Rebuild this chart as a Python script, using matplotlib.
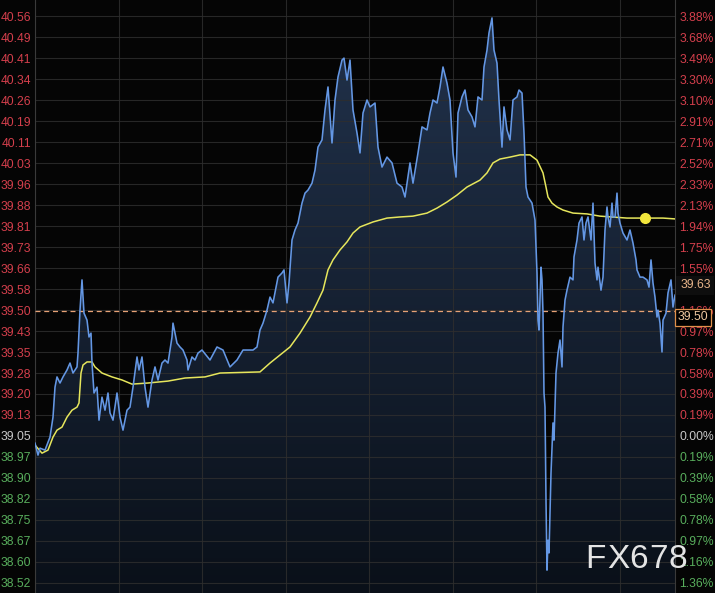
import numpy as np
import matplotlib
matplotlib.use("Agg")
import matplotlib.pyplot as plt
import matplotlib.transforms as mtransforms
from matplotlib.colors import LinearSegmentedColormap

# ---- data (bar index = minute bars from session start) ----
bars = [0, 3, 5, 10, 15, 18, 20, 22, 25, 28, 32, 35, 38, 42, 43, 45, 47, 49, 52, 54,
        56, 57, 59, 62, 64, 67, 70, 73, 75, 78, 82, 85, 88, 92, 95, 98, 102, 104, 107, 110,
        113, 117, 120, 123, 127, 130, 133, 137, 138, 142, 145, 148, 152, 153, 157, 160, 163, 167,
        175, 182, 188, 195, 202, 208, 215, 218, 222, 225, 228, 232, 235, 238, 243, 247, 249, 252,
        254, 257, 260, 263, 267, 270, 273, 277, 280, 283, 287, 290, 293, 297, 300, 303, 307, 309,
        312, 315, 318, 322, 325, 328, 332, 335, 340, 343, 347, 352, 357, 362, 367, 370, 375, 378,
        383, 387, 392, 395, 398, 402, 405, 408, 412, 415, 418, 421, 423, 427, 430, 433, 437, 440,
        443, 447, 449, 452, 454, 457, 459, 462, 464, 467, 469, 472, 475, 478, 482, 484, 487, 489,
        491, 493, 497, 500, 502, 503, 504, 506, 507, 508, 509, 510, 511, 512, 513, 514, 516, 518,
        519, 521, 523, 525, 527, 528, 530, 532, 535, 538, 539, 542, 544, 547, 549, 551, 553, 556,
        558, 560, 562, 563, 566, 568, 570, 572, 573, 575, 577, 578, 580, 582, 583, 585, 588, 592,
        595, 598, 601, 602, 605, 608, 612, 614, 616, 618, 620, 622, 623, 625, 627, 628, 631, 633,
        636, 638, 640]

prices = [39.024, 38.981, 39.006, 38.999, 39.046, 39.118, 39.226, 39.263, 39.241, 39.263,
          39.288, 39.313, 39.277, 39.299, 39.349, 39.504, 39.613, 39.493, 39.468, 39.407,
          39.421, 39.313, 39.205, 39.226, 39.107, 39.190, 39.143, 39.205, 39.133, 39.107,
          39.205, 39.118, 39.071, 39.143, 39.154, 39.226, 39.335, 39.288, 39.335, 39.226,
          39.154, 39.252, 39.299, 39.252, 39.313, 39.324, 39.313, 39.407, 39.457, 39.385,
          39.371, 39.360, 39.324, 39.288, 39.335, 39.324, 39.349, 39.360,
          39.324, 39.371, 39.360, 39.299, 39.324, 39.360, 39.360, 39.360, 39.371, 39.432,
          39.457, 39.504, 39.551, 39.530, 39.623, 39.638, 39.649, 39.530, 39.602, 39.757,
          39.793, 39.818, 39.890, 39.926, 39.937, 39.962, 40.009, 40.092, 40.118, 40.226,
          40.309, 40.107, 40.262, 40.345, 40.406, 40.413, 40.334, 40.406, 40.226, 40.143,
          40.071, 40.215, 40.262, 40.237, 40.251, 40.092, 40.020, 40.056, 40.035, 39.962,
          39.948, 39.912, 40.035, 39.962, 40.071, 40.165, 40.154, 40.215, 40.262, 40.251,
          40.309, 40.381, 40.323, 40.262, 40.071, 39.984, 40.215, 40.273, 40.298, 40.226,
          40.201, 40.165, 40.273, 40.262, 40.381, 40.442, 40.504, 40.558, 40.442, 40.395,
          40.262, 40.092, 40.237, 40.154, 40.118, 40.262, 40.273, 40.298, 40.287, 40.143,
          39.948, 39.912, 39.890, 39.829, 39.638, 39.468, 39.432, 39.659, 39.613, 39.493,
          39.205, 39.154, 38.819, 38.566, 38.674, 38.628, 38.916, 39.097, 39.035, 39.277,
          39.349, 39.396, 39.299, 39.443, 39.540, 39.576, 39.623, 39.613, 39.696, 39.757,
          39.818, 39.840, 39.757, 39.818, 39.840, 39.757, 39.890, 39.674, 39.613, 39.659,
          39.576, 39.623, 39.793, 39.876, 39.840, 39.804, 39.890, 39.840, 39.840, 39.926,
          39.854, 39.818, 39.782, 39.757, 39.793, 39.746, 39.685, 39.649, 39.623, 39.623,
          39.613, 39.587, 39.685, 39.602, 39.551, 39.479, 39.504, 39.457, 39.353, 39.468,
          39.493, 39.566, 39.613, 39.515, 39.558]

ma_bars = [0, 7, 13, 18, 22, 27, 32, 37, 42, 44, 46, 48, 52, 57, 60, 67, 77, 87, 97, 113,
           133, 150, 170, 185, 225, 235, 245, 255, 265, 275, 282, 288, 293, 298, 305, 312,
           318, 325, 338, 352, 365, 378, 392, 402, 412, 422, 432, 445, 452, 458, 465, 475,
           485, 495, 502, 508, 511, 513, 517, 522, 528, 538, 552, 565, 592, 610, 628, 640]
ma_prices = [39.017, 38.988, 38.999, 39.046, 39.071, 39.082, 39.118, 39.143, 39.154, 39.169,
             39.277, 39.306, 39.317, 39.317, 39.299, 39.277, 39.263, 39.252, 39.237, 39.241,
             39.248, 39.259, 39.263, 39.277, 39.281, 39.313, 39.342, 39.371, 39.421, 39.479,
             39.530, 39.576, 39.649, 39.685, 39.721, 39.750, 39.782, 39.804, 39.822, 39.836,
             39.840, 39.843, 39.854, 39.872, 39.894, 39.919, 39.948, 39.973, 39.999, 40.035,
             40.049, 40.056, 40.064, 40.064, 40.045, 39.999, 39.948, 39.912, 39.890, 39.876,
             39.865, 39.854, 39.851, 39.843, 39.836, 39.836, 39.836, 39.833]
ma_dot_bar = 610

ref_price = 39.05        # 0.00% level
price_step = 0.0757      # one grid row
prev_close = 39.50
last_price_label = "39.63"
last_price_level = 39.594

left_labels = ["40.56", "40.49", "40.41", "40.34", "40.26", "40.19", "40.11", "40.03",
               "39.96", "39.88", "39.81", "39.73", "39.66", "39.58", "39.50", "39.43",
               "39.35", "39.28", "39.20", "39.13", "39.05", "38.97", "38.90", "38.82",
               "38.75", "38.67", "38.60", "38.52"]
right_labels = ["3.88%", "3.68%", "3.49%", "3.30%", "3.10%", "2.91%", "2.71%", "2.52%",
                "2.33%", "2.13%", "1.94%", "1.75%", "1.55%", "1.36%", "1.16%", "0.97%",
                "0.78%", "0.58%", "0.39%", "0.19%", "0.00%", "0.19%", "0.39%", "0.58%",
                "0.78%", "0.97%", "1.16%", "1.36%"]
steps_up = 20
grid_every = 83.5

# ---- styling ----
BG = "#050505"
RED = "#d43f4c"
GREEN = "#58ad5c"
NEUTRAL = "#c8c8c8"
BLUE = "#6497e4"
YELLOW = "#e6e65c"
FONT = "Liberation Sans"

fig = plt.figure(figsize=(7.15, 5.93), dpi=100, facecolor=BG)
ax = fig.add_axes([35 / 715, 0, 640 / 715, 1])
ax.set_facecolor(BG)

ylo, yhi = 38.4835, 40.6227
ax.set_xlim(0, 640)
ax.set_ylim(ylo, yhi)

ticks = [ref_price + price_step * (steps_up - i) for i in range(len(left_labels))]

# gradient fill under the price line
cmap = LinearSegmentedColormap.from_list("fill", ["#0a1019", "#22334d"])
grad = np.linspace(0, 1, 256).reshape(-1, 1)
im = ax.imshow(grad, extent=[0, 640, ylo, yhi], origin="lower", aspect="auto",
               cmap=cmap, zorder=1)
poly = ax.fill_between(bars, prices, ylo, facecolor="none", edgecolor="none")
im.set_clip_path(poly.get_paths()[0], transform=ax.transData)

ax.plot(bars, prices, color=BLUE, lw=1.15, zorder=5)
ax.plot(ma_bars, ma_prices, color=YELLOW, lw=1.1, zorder=4)
ax.plot([ma_dot_bar], [np.interp(ma_dot_bar, ma_bars, ma_prices)], "o",
        color="#f2e63c", ms=7, zorder=6)
ax.axhline(prev_close, color="#e7a276", lw=0.9, ls=(0, (4, 3)), zorder=3)

# grid
ax.set_xticks(np.arange(0, 640, grid_every))
ax.set_yticks(ticks)
ax.grid(True, color="#2e2e2e", lw=0.8, alpha=0.85)
ax.tick_params(axis="x", length=0, labelbottom=False)
ax.tick_params(axis="y", length=0, pad=3)
ax.set_yticklabels(left_labels, fontsize=8.7, family=FONT)

for spine in ["top", "bottom"]:
    ax.spines[spine].set_visible(False)
ax.spines["left"].set_color("#3a3a3a")
ax.spines["right"].set_color("#3a3a3a")

ax2 = ax.twinx()
ax2.set_ylim(ylo, yhi)
ax2.set_yticks(ticks)
ax2.set_yticklabels(right_labels, fontsize=8.7, family=FONT)
ax2.tick_params(axis="y", length=0, pad=3)
for spine in ax2.spines.values():
    spine.set_visible(False)


def label_color(i):
    if i < steps_up:
        return RED
    if i == steps_up:
        return NEUTRAL
    return GREEN


for i, t in enumerate(ax.get_yticklabels()):
    t.set_color(label_color(i))
for i, t in enumerate(ax2.get_yticklabels()):
    t.set_color(label_color(i))

trans = mtransforms.blended_transform_factory(ax2.transAxes, ax2.transData)
ax2.text(1.004, prev_close, f"{prev_close:.2f}", transform=trans, va="top", ha="left",
         fontsize=8.7, family=FONT, color="#f0c8a0", zorder=10, clip_on=False,
         bbox=dict(boxstyle="square,pad=0.2", fc="black", ec="#e0904a", lw=0.9))
ax2.text(1.008, last_price_level, last_price_label, transform=trans, va="center", ha="left",
         fontsize=8.7, family=FONT, color="#e6b48a", zorder=10, clip_on=False,
         bbox=dict(boxstyle="square,pad=0.3", fc="#0e0e0e", ec="none"))

# watermark, letters spaced a little like the original
wm_x = 585 / 715
for ch in "FX678":
    t = fig.text(wm_x, 1 - 568 / 593, ch, fontsize=24, family=FONT,
                 color="#e4e4e4", ha="left", va="baseline", zorder=20)
    wm_x += (0.62 if ch in "FX" else 0.55) * 24 / 72 * 100 / 715 + 1.5 / 715

fig.savefig("out.png", dpi=100, facecolor=BG)
